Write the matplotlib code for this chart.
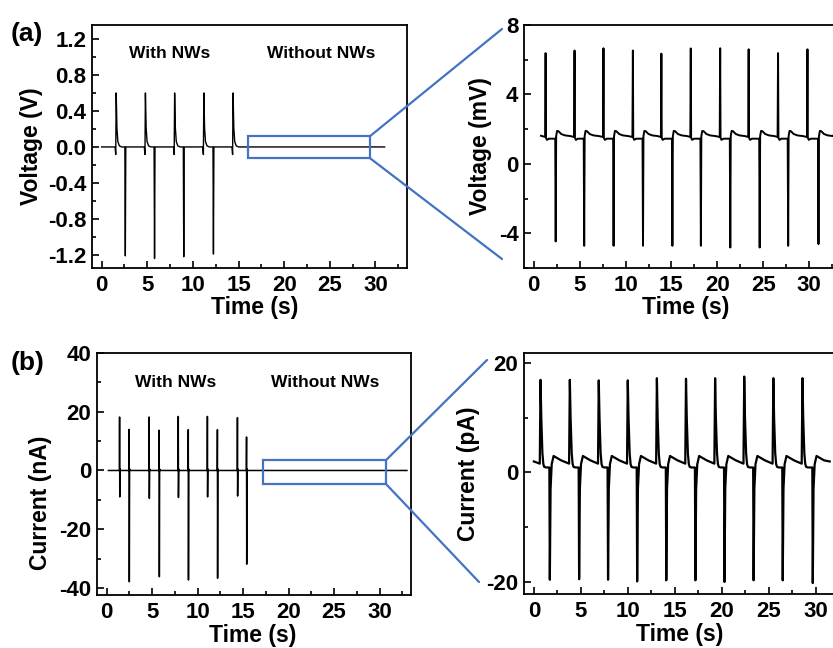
import numpy as np
import matplotlib
matplotlib.use('Agg')
from matplotlib import pyplot as plt
from matplotlib.patches import Rectangle, ConnectionPatch
from matplotlib.ticker import MultipleLocator, FormatStrFormatter

plt.rcParams['font.family'] = ['Liberation Sans', 'DejaVu Sans']
plt.rcParams['font.weight'] = 'bold'
plt.rcParams['axes.unicode_minus'] = False

#region: Data
# (a) left: voltage in V, with NWs
va_pos_t = [1.6, 4.8, 8.0, 11.2, 14.4]
va_pos_v = [0.60, 0.60, 0.60, 0.60, 0.60]
va_neg_t = [2.6, 5.8, 9.0, 12.25]
va_neg_v = [-1.21, -1.24, -1.22, -1.19]
va_span = [0.0, 31.0]
# spike shapes: offsets in s and fraction of the peak
va_pos_dt = [-0.12, -0.05, 0.0, 0.08, 0.18, 0.35, 0.6]
va_pos_fr = [0.0, -0.14, 1.0, 0.35, 0.10, 0.02, 0.0]
va_neg_dt = [-0.05, 0.0, 0.05]
va_neg_fr = [0.0, 1.0, 0.0]

# (a) right: voltage in mV, without NWs
vm_pos_t = [1.3, 4.45, 7.6, 10.8, 13.9, 17.1, 20.3, 23.4, 26.6, 29.8]
vm_pos_v = [6.38, 6.53, 6.66, 6.53, 6.35, 6.65, 6.66, 6.60, 6.38, 6.60]
vm_neg_t = [2.4, 5.5, 8.7, 11.9, 15.1, 18.2, 21.4, 24.6, 27.7, 31.0]
vm_neg_v = [-4.47, -4.72, -4.72, -4.72, -4.72, -4.72, -4.82, -4.82, -4.72, -4.62]
vm_span = [0.8, 32.6]
vm_base = 1.62
# baseline around spikes (None = the spike value)
vm_pos_dt = [-0.05, 0.0, 0.04, 0.15, 0.35]
vm_pos_lv = [1.55, None, 1.50, 1.38, 1.45]
vm_neg_dt = [-0.05, 0.0, 0.05, 0.15, 0.3, 0.6, 1.0, 1.6]
vm_neg_lv = [1.45, None, 1.60, 1.90, 1.88, 1.72, 1.64, 1.60]

# (b) left: current in nA, with NWs
ia_t1 = [1.45, 4.7, 7.9, 11.1, 14.4]
ia_p1 = [18.2, 18.2, 18.4, 18.4, 18.0]
ia_n1 = [-9.0, -9.5, -9.2, -9.0, -8.7]
ia_t2 = [2.5, 5.8, 9.0, 12.2, 15.4]
ia_p2 = [14.0, 13.7, 13.9, 13.9, 11.4]
ia_n2 = [-37.9, -36.2, -37.3, -36.7, -31.9]
ia_span = [0.2, 33.0]

# (b) right: current in pA, without NWs
ip_pos_t = [0.71, 3.83, 6.91, 10.0, 13.1, 16.2, 19.3, 22.4, 25.5, 28.6]
ip_pos_v = [16.9, 16.9, 16.8, 16.8, 17.2, 17.1, 17.2, 17.5, 17.2, 17.2]
ip_neg_t = [1.7, 4.82, 7.9, 11.0, 14.1, 17.2, 20.3, 23.4, 26.5, 29.7]
ip_neg_v = [-19.6, -19.5, -19.6, -19.9, -19.7, -19.7, -20.0, -19.7, -19.7, -20.2]
ip_span = [0.0, 31.5]
ip_base = 2.0
ip_pos_dt = [-0.08, 0.0, 0.08, 0.2, 0.3, 0.4, 0.6]
ip_pos_lv = [1.6, None, 10.0, 3.5, 1.5, 1.0, 0.9]
ip_neg_dt = [-0.05, 0.0, 0.08, 0.2, 0.4, 0.7, 1.2, 1.9]
ip_neg_lv = [0.9, None, -3.0, 1.5, 3.0, 2.7, 2.2, 1.7]
#endregion


def frac_spikes(times, peaks, dts, fracs):
    pts = []
    for t0, p in zip(times, peaks):
        for dt, f in zip(dts, fracs):
            pts.append((t0 + dt, f * p))
    return pts


def level_spikes(times, peaks, dts, levels):
    pts = []
    for t0, p in zip(times, peaks):
        for dt, lv in zip(dts, levels):
            pts.append((t0 + dt, p if lv is None else lv))
    return pts


def make_trace(span, base, pts):
    pts = [(span[0], base)] + sorted(pts) + [(span[1], base)]
    pts = [p for p in pts if span[0] <= p[0] <= span[1]]
    arr = np.array(pts)
    return arr[:, 0], arr[:, 1]


# (a) left
ta, ya = make_trace(va_span, 0.0,
                    frac_spikes(va_pos_t, va_pos_v, va_pos_dt, va_pos_fr)
                    + frac_spikes(va_neg_t, va_neg_v, va_neg_dt, va_neg_fr))
# (a) right
tm, ym = make_trace(vm_span, vm_base,
                    level_spikes(vm_pos_t, vm_pos_v, vm_pos_dt, vm_pos_lv)
                    + level_spikes(vm_neg_t, vm_neg_v, vm_neg_dt, vm_neg_lv))
# (b) left: bipolar spikes
bip_dt = [-0.04, -0.02, 0.0, 0.03, 0.08]
bip_pts = []
for tt, pp, nn in [(ia_t1, ia_p1, ia_n1), (ia_t2, ia_p2, ia_n2)]:
    for t0, p, n in zip(tt, pp, nn):
        bip_pts += list(zip([t0 + d for d in bip_dt], [0.0, p, n, 0.5, 0.0]))
tb, yb = make_trace(ia_span, 0.0, bip_pts)
# (b) right
tp, yp = make_trace(ip_span, ip_base,
                    level_spikes(ip_pos_t, ip_pos_v, ip_pos_dt, ip_pos_lv)
                    + level_spikes(ip_neg_t, ip_neg_v, ip_neg_dt, ip_neg_lv))

W, H = 833, 648
fig = plt.figure(figsize=(W / 100, H / 100), dpi=100)


def px_axes(l, t, r, b):
    return fig.add_axes([l / W, 1 - b / H, (r - l) / W, (b - t) / H])


ax1 = px_axes(92, 25, 407, 268)
ax2 = px_axes(524, 25, 841, 268)
ax3 = px_axes(97, 353, 411, 595)
ax4 = px_axes(524, 353, 848, 594)

blue = '#4472C4'
fs = 16
fl = 16.5

for ax in (ax1, ax2, ax3, ax4):
    for s in ax.spines.values():
        s.set_linewidth(1.3)
    ax.tick_params(which='both', direction='in', top=False, right=False, width=1.2,
                   labelsize=fs)
    ax.tick_params(which='major', length=5)
    ax.tick_params(which='minor', length=3)
    ax.tick_params(axis='y', pad=4)
    ax.tick_params(axis='x', pad=5)
    ax.set_xlim(-1.05, 33.45)
    ax.xaxis.set_major_locator(MultipleLocator(5))
    ax.xaxis.set_minor_locator(MultipleLocator(2.5))
    for lab in ax.get_xticklabels() + ax.get_yticklabels():
        lab.set_fontweight('bold')
    ax.set_xlabel('Time (s)', fontsize=fl, fontweight='bold')

ax1.plot(ta, ya, color='k', lw=1.0)
ax1.set_ylim(-1.345, 1.355)
ax1.yaxis.set_major_locator(MultipleLocator(0.4))
ax1.yaxis.set_minor_locator(MultipleLocator(0.2))
ax1.yaxis.set_major_formatter(FormatStrFormatter('%.1f'))
ax1.set_ylabel('Voltage (V)', fontsize=fl, fontweight='bold')
ax1.text(7.5, 1.04, 'With NWs', fontsize=12.5, fontweight='bold', ha='center', va='center')
ax1.text(24.1, 1.04, 'Without NWs', fontsize=12.5, fontweight='bold', ha='center', va='center')
ax1.add_patch(Rectangle((16.0, -0.125), 13.4, 0.245, fill=False, ec=blue, lw=1.6, zorder=3))

ax2.plot(tm, ym, color='k', lw=1.4)
ax2.set_ylim(-6, 8)
ax2.yaxis.set_major_locator(MultipleLocator(4))
ax2.yaxis.set_minor_locator(MultipleLocator(2))
ax2.set_ylabel('Voltage (mV)', fontsize=fl, fontweight='bold')

ax3.plot(tb, yb, color='k', lw=1.1)
ax3.set_ylim(-42.4, 40)
ax3.yaxis.set_major_locator(MultipleLocator(20))
ax3.yaxis.set_minor_locator(MultipleLocator(10))
ax3.set_ylabel('Current (nA)', fontsize=fl, fontweight='bold')
ax3.text(7.6, 30.1, 'With NWs', fontsize=12.5, fontweight='bold', ha='center', va='center')
ax3.text(24.0, 30.1, 'Without NWs', fontsize=12.5, fontweight='bold', ha='center', va='center')
ax3.add_patch(Rectangle((17.15, -4.6), 13.55, 8.1, fill=False, ec=blue, lw=1.6, zorder=3))

ax4.plot(tp, yp, color='k', lw=1.6)
ax4.set_ylim(-22.2, 21.8)
ax4.yaxis.set_major_locator(MultipleLocator(20))
ax4.yaxis.set_minor_locator(MultipleLocator(10))
ax4.set_ylabel('Current (pA)', fontsize=fl, fontweight='bold')

# label positions (right edge of the rotated y labels, top of the x labels)
ax1.yaxis.set_label_coords(-0.156, 0.5)
ax2.yaxis.set_label_coords(-0.101, 0.5)
ax3.yaxis.set_label_coords(-0.143, 0.38)
ax4.yaxis.set_label_coords(-0.136, 0.5)
ax1.xaxis.set_label_coords(0.517, -0.115)
ax2.xaxis.set_label_coords(0.51, -0.115)
ax3.xaxis.set_label_coords(0.497, -0.12)
ax4.xaxis.set_label_coords(0.48, -0.12)

# zoom connectors
for ax, corner, end in [(ax1, (29.4, 0.12), (502, 29)), (ax1, (29.4, -0.125), (502, 259)),
                        (ax3, (30.7, 3.5), (487, 360)), (ax3, (30.7, -4.6), (479, 582))]:
    con = ConnectionPatch(xyA=corner, coordsA='data', axesA=ax,
                          xyB=(end[0] / W, 1 - end[1] / H), coordsB='figure fraction',
                          color=blue, lw=1.6)
    fig.add_artist(con)

fig.text(11 / W, 1 - 34 / H, '(a)', fontsize=19, fontweight='bold', va='center', ha='left')
fig.text(11 / W, 1 - 363 / H, '(b)', fontsize=19, fontweight='bold', va='center', ha='left')

fig.savefig('out.png', dpi=100)
